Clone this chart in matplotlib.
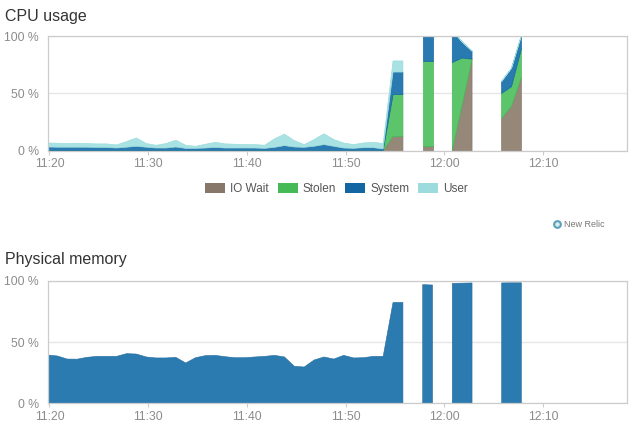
import numpy as np
import pandas as pd
import matplotlib
matplotlib.use('Agg')
import matplotlib.pyplot as plt
import matplotlib.dates as mdates
from matplotlib.patches import Patch
from matplotlib.lines import Line2D

plt.rcParams['font.family'] = ['Liberation Sans', 'DejaVu Sans']

nan = np.nan

# one sample per minute, NaN where the agent reported nothing
times = pd.date_range('2014-05-12 11:19:48', periods=49, freq='min')
x_end = pd.Timestamp('2014-05-12 12:18:30')

io_wait = [0, 0, 0, 0, 0, 0, 0, 0, 0, 0,
           0, 0, 0, 0, 0, 0, 0, 0, 0, 0,
           0, 0, 0, 0, 0, 0, 0, 0, 0, 0,
           0, 0, 0, 0, 0, 12.3, 12.3, nan, 4, 4,
           nan, 0.5, 40, 80, nan, nan, 28, 39, 64]
stolen = [0, 0, 0, 0, 0, 0, 0, 0, 0, 0,
          0, 0, 0, 0, 0, 0, 0, 0, 0, 0,
          0, 0, 0, 0, 0, 0, 0, 0, 0, 0,
          0, 0, 0, 0, 0, 36.7, 36.7, nan, 74, 74,
          nan, 76.5, 41, 0, nan, nan, 22, 17, 25]
system = [3.2, 3.0, 3.0, 3.0, 3.0, 2.8, 2.8, 2.3, 3.0, 3.8,
          3.0, 2.3, 2.3, 3.2, 2.0, 2.0, 2.3, 2.8, 2.3, 2.3,
          2.3, 2.3, 2.0, 2.9, 4.4, 3.2, 2.9, 3.8, 5.3, 3.8,
          2.3, 2.0, 2.6, 2.6, 1.5, 19.7, 19.7, nan, 22, 22,
          nan, 28, 14, 7, nan, nan, 10.5, 16, 11.5]
user = [3.5, 3.5, 3.2, 3.5, 3.2, 3.1, 3.1, 2.7, 4.9, 7.3,
        3.2, 2.4, 3.9, 5.9, 2.7, 1.8, 3.3, 4.5, 3.6, 3.3,
        3.0, 3.0, 2.7, 7.4, 10.0, 5.6, 2.4, 5.9, 9.4, 5.9,
        4.4, 3.3, 4.1, 4.7, 4.7, 9.7, 9.7, nan, 0, 0,
        nan, 0, 0, 0, nan, nan, 0, 0, 0]
memory = [39.4, 38.6, 36.1, 36.0, 37.5, 38.3, 38.3, 38.3, 40.5, 40.2,
          37.8, 37.0, 37.0, 37.5, 32.9, 37.2, 38.9, 39.1, 38.0, 37.2,
          37.2, 37.8, 38.3, 39.1, 37.8, 30.2, 29.6, 35.3, 37.8, 36.1,
          39.1, 37.0, 37.2, 38.3, 38.3, 82.3, 82.3, nan, 96.8, 96.5,
          nan, 97.8, 98.0, 98.2, nan, nan, 98.2, 98.3, 98.3]

cpu_names = ['IO Wait', 'Stolen', 'System', 'User']
cpu_series = [io_wait, stolen, system, user]
swatch_colors = ['#87776a', '#45b955', '#1466a3', '#9cdcdc']
fill_colors = ['#968878', '#5cc46b', '#2a7ab2', '#a8e2e2']
memory_color = '#2b7bb1'

y_ticks = [0, 50, 100]
y_labels = ['0 %', '50 %', '100 %']


def style_axes(ax):
    ax.set_xlim(times[0], x_end)
    ax.set_ylim(0, 100)
    ax.set_yticks(y_ticks)
    ax.set_yticklabels(y_labels)
    ax.yaxis.grid(True, color='#e6e6e6', lw=1)
    ax.set_axisbelow(True)
    for s in ax.spines.values():
        s.set_color('#cccccc')
        s.set_linewidth(0.9)
    ax.tick_params(axis='y', length=0, pad=6, labelsize=8.8, labelcolor='#8c8c8c')
    ax.tick_params(axis='x', length=3, color='#cccccc', pad=2.5,
                   labelsize=8.8, labelcolor='#8c8c8c')
    ax.xaxis.set_major_locator(mdates.MinuteLocator(byminute=range(0, 60, 10)))
    ax.xaxis.set_major_formatter(mdates.DateFormatter('%H:%M'))


fig = plt.figure(figsize=(6.42, 4.28), dpi=100)
ax_cpu = fig.add_axes([0.074, 0.648, 0.9027, 0.2673])
ax_mem = fig.add_axes([0.074, 0.0577, 0.9027, 0.2864])

# stacked cpu areas
bottom = np.zeros(len(times))
for vals, fc, ec in zip(cpu_series, fill_colors, swatch_colors):
    top = bottom + np.array(vals, dtype=float)
    ax_cpu.fill_between(times, bottom, top, facecolor=fc, edgecolor=ec, lw=0.5)
    bottom = top
style_axes(ax_cpu)

ax_mem.fill_between(times, 0, np.array(memory, dtype=float),
                    facecolor=memory_color, edgecolor='#236a9c', lw=0.4)
style_axes(ax_mem)

fig.text(5 / 642, 1 - 21 / 428, 'CPU usage', fontsize=11.5, color='#333333', va='baseline')
fig.text(5 / 642, 1 - 264 / 428, 'Physical memory', fontsize=11.5, color='#333333', va='baseline')

handles = [Patch(facecolor=c, edgecolor='none', label=n) for n, c in zip(cpu_names, swatch_colors)]
leg = fig.legend(handles=handles, loc='center', bbox_to_anchor=(0.5241, 0.5589), ncol=4,
                 frameon=False, fontsize=8.5, handlelength=1.7, handleheight=0.93,
                 handletextpad=0.42, columnspacing=0.76)
for t in leg.get_texts():
    t.set_color('#555555')

# small "New Relic" badge
fig.add_artist(Line2D([0.8672], [0.4759], marker='o', ms=4.8, mfc='#d8edf2', mec='#5aa0b8',
                      mew=1.5, transform=fig.transFigure))
fig.text(0.8785, 0.4759, 'New Relic', fontsize=6.5, color='#777777', va='center')

fig.savefig('out.png', dpi=100)
